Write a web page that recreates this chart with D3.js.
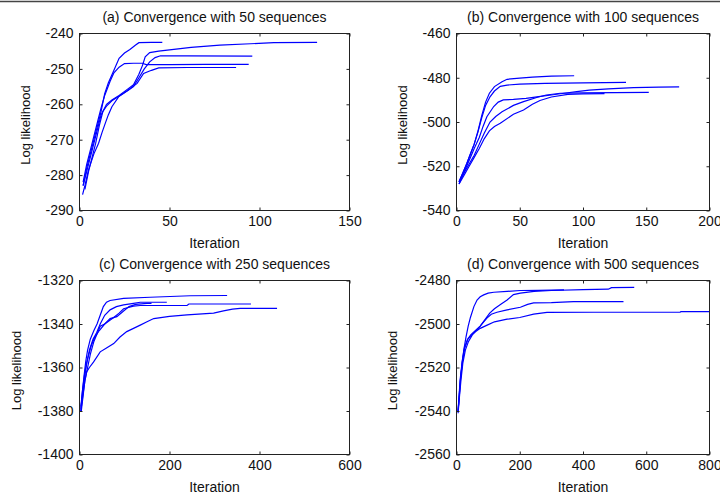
<!DOCTYPE html>
<html><head><meta charset="utf-8">
<script src="https://cdn.jsdelivr.net/npm/d3@7"></script>
<style>html,body{margin:0;padding:0;background:#fff;overflow:hidden}</style>
</head><body>
<svg id="chart" width="720" height="495"></svg>
<script>
// ---------- data ----------
const titles = [
  "(a) Convergence with 50 sequences",
  "(b) Convergence with 100 sequences",
  "(c) Convergence with 250 sequences",
  "(d) Convergence with 500 sequences"
];
const xLabel = "Iteration";
const yLabel = "Log likelihood";

const xTicksA = [0, 50, 100, 150];
const xTicksB = [0, 50, 100, 150, 200];
const xTicksC = [0, 200, 400, 600];
const xTicksD = [0, 200, 400, 600, 800];
const yTicksA = [-290, -280, -270, -260, -250, -240];
const yTicksB = [-540, -520, -500, -480, -460];
const yTicksC = [-1400, -1380, -1360, -1340, -1320];
const yTicksD = [-2560, -2540, -2520, -2500, -2480];

// each run: [iteration, log likelihood] pairs
const runsA = [
  [[2,-283],[4,-278],[6,-274],[8,-270],[10,-266],[12,-262],[14,-257],[16,-254],[19,-250.5],[22,-247],[25,-245.5],[28,-244.5],[31,-243.3],[33,-242.6],[40,-242.5],[46,-242.5]],
  [[2,-282],[4,-277],[6,-273],[8,-269],[10,-265],[12,-261],[14,-257.5],[17,-253.5],[19,-251.2],[22,-249.5],[25,-248.5],[30,-248.4],[35,-248.4],[37,-248.8],[50,-248.8],[70,-248.7],[94,-248.7]],
  [[3,-284],[5,-279],[7,-275],[9,-271],[11,-266],[13,-262],[15,-260.5],[18,-259],[21,-258],[24,-257],[27,-256],[30,-255],[33,-252.5],[36,-250],[39,-248],[42,-246.8],[45,-246.3],[60,-246.3],[96,-246.4]],
  [[2,-283],[4,-279],[6,-275],[8,-271],[10,-267],[12,-263],[15,-260],[18,-258.8],[22,-257.5],[26,-256],[30,-254.5],[33,-251.5],[35,-249],[36.5,-246.6],[39,-245.4],[44,-245],[50,-244.6],[62,-243.9],[78,-243.3],[95,-242.9],[108,-242.6],[132,-242.5]],
  [[1.7,-285.5],[3,-283],[5,-278.5],[8,-274],[10.6,-271],[12.5,-268],[14.3,-265.4],[16,-263],[18,-260.7],[21.7,-257.9],[27,-256],[32,-254.1],[35.6,-251.3],[40,-250.4],[44,-249.7],[60,-249.6],[87,-249.6]]
];
const runsB = [
  [[2,-527],[5,-523],[8,-519],[11,-514.5],[14,-510],[17,-504],[20,-497],[23,-491],[26,-487],[30,-484],[36,-481.8],[40,-480.7],[50,-480.2],[60,-479.7],[75,-479.3],[93,-479.1]],
  [[2,-527],[5,-523],[8,-519],[11,-514.5],[14,-510],[17,-504.5],[20,-498],[23,-492.5],[26.5,-488.6],[30,-486],[34.6,-483.9],[40,-483.3],[50,-482.9],[70,-482.5],[100,-482.3],[134,-482.1]],
  [[2,-528],[5,-524],[8,-520],[11,-516],[14,-512],[18,-507],[21,-502],[24,-497.6],[29.4,-493],[33,-491],[37,-490],[45,-489.8],[55,-489.3],[65,-488.5],[75,-487.8],[85,-487],[95,-486.3],[105,-485.6],[120,-485],[140,-484.5],[160,-484.2],[176,-484.1]],
  [[2,-527],[6,-523],[10,-519],[14,-515],[18,-510],[22,-505],[26.5,-500],[31,-497.5],[36,-495.4],[45,-492.5],[53,-490.8],[64,-488.8],[71,-487.8],[82,-487],[100,-486.8],[125,-486.7],[152,-486.6]],
  [[2,-528],[6,-524],[10,-520],[14,-516],[18,-512],[22,-507.5],[26,-504],[30,-502],[34.6,-500.6],[45,-496.5],[53,-494.6],[60,-492],[66,-490.3],[75,-488.7],[88,-487.5],[100,-487.3],[117,-487.2]]
];
const runsC = [
  [[3,-1380],[6,-1372],[10,-1364],[14,-1357],[18,-1352],[24,-1347],[32,-1343],[39,-1340],[46,-1336],[53,-1332],[60,-1330],[68,-1329.2],[98,-1328.2],[157,-1327.7],[246,-1327],[328,-1326.9]],
  [[3,-1379],[7,-1372],[11,-1365],[16,-1358],[22,-1352],[30,-1347],[38,-1344],[46,-1340],[56,-1336],[68,-1333.5],[82,-1332],[98,-1331.2],[120,-1330.5],[135,-1330],[194,-1330]],
  [[4,-1380],[8,-1373],[12,-1366],[18,-1360],[24,-1354],[32,-1348],[40,-1344],[46,-1341],[56,-1340],[66,-1338.5],[76,-1337],[88,-1335],[98,-1333],[120,-1331.8],[135,-1331.5],[200,-1331.5],[239,-1331.5],[243,-1330.8],[300,-1330.8],[381,-1330.8]],
  [[3,-1378],[7,-1370],[12,-1362],[18,-1356],[26,-1350],[34,-1346],[44,-1343],[56,-1340],[68,-1337.5],[83,-1336.6],[98,-1334],[110,-1332],[125,-1331],[150,-1330.5],[160,-1330.5]],
  [[3,-1380],[8,-1372],[12,-1366],[16,-1362],[22,-1360],[31,-1357.5],[46,-1352.8],[60,-1351],[76,-1349],[90,-1346],[105,-1343.5],[120,-1342],[135,-1340.5],[150,-1339],[165,-1337.5],[200,-1336.5],[239,-1335.8],[298,-1335],[320,-1334],[340,-1333.2],[357,-1332.8],[439,-1332.8]]
];
const runsD = [
  [[5,-2540],[8,-2534],[12,-2526],[18,-2518],[23,-2512],[30,-2506],[37,-2501],[44,-2497],[55,-2492],[65,-2489],[75,-2487.5],[86,-2486.6],[100,-2485.8],[118,-2485.4],[160,-2485],[202,-2484.6],[260,-2484.5],[340,-2484.3]],
  [[5,-2540],[8,-2533],[12,-2525],[18,-2517],[25,-2511],[35,-2507],[45,-2505],[60,-2503],[75,-2501],[90,-2498],[105,-2495],[120,-2493],[139,-2491],[160,-2489],[180,-2486.5],[202,-2485.8],[245,-2485],[300,-2484.6],[400,-2484.2],[480,-2484],[490,-2483.3],[562,-2483.2]],
  [[5,-2540],[9,-2533],[13,-2525],[19,-2517],[26,-2511],[36,-2507],[48,-2505],[62,-2503],[75,-2501],[86,-2499],[97,-2497.2],[110,-2495.5],[128,-2494.6],[160,-2493.5],[202,-2492.3],[225,-2491],[244,-2490.3],[300,-2490.2],[370,-2489.7],[528,-2489.7]],
  [[5,-2541],[9,-2534],[14,-2526],[20,-2518],[28,-2512],[38,-2508],[50,-2505],[62,-2503.3],[75,-2502],[97,-2500.5],[120,-2499],[160,-2497.8],[200,-2497],[244,-2495.5],[286,-2494.7],[434,-2494.6],[707,-2494.5],[710,-2494.3],[800,-2494.3]]
];

// ---------- layout ----------
const panels = [
  {runs: runsA, xt: xTicksA, yt: yTicksA, L: 79.5, R: 349.5, T: 33.5, B: 210.5, titleY: 22, xlabY: 248, ylabX: 30},
  {runs: runsB, xt: xTicksB, yt: yTicksB, L: 456.5, R: 709.5, T: 33.5, B: 210.5, titleY: 22, xlabY: 248, ylabX: 407},
  {runs: runsC, xt: xTicksC, yt: yTicksC, L: 79.5, R: 349.5, T: 280.5, B: 454.5, titleY: 269, xlabY: 492, ylabX: 21},
  {runs: runsD, xt: xTicksD, yt: yTicksD, L: 456.5, R: 709.5, T: 280.5, B: 454.5, titleY: 269, xlabY: 492, ylabX: 397}
];

const svg = d3.select("#chart");
const FONT = "'Liberation Sans', Arial, Helvetica, sans-serif";
const ink = "#111";
const frame = "#222";

svg.append("line").attr("x1", 0).attr("x2", 720).attr("y1", 1.5).attr("y2", 1.5)
  .attr("stroke", "#444").attr("stroke-width", 1.4);

panels.forEach((p, i) => {
  const x = d3.scaleLinear().domain([p.xt[0], p.xt[p.xt.length - 1]]).range([p.L, p.R]);
  const y = d3.scaleLinear().domain([p.yt[0], p.yt[p.yt.length - 1]]).range([p.B, p.T]);
  const g = svg.append("g");
  const clipId = "clip" + i;
  g.append("clipPath").attr("id", clipId).append("rect")
    .attr("x", p.L).attr("y", p.T).attr("width", p.R - p.L).attr("height", p.B - p.T);

  // lines
  const line = d3.line().x(d => x(d[0])).y(d => y(d[1]));
  g.append("g").attr("clip-path", `url(#${clipId})`).selectAll("path").data(p.runs).join("path")
    .attr("d", line).attr("fill", "none").attr("stroke", "#0000ff").attr("stroke-width", 1.2);

  // frame
  g.append("rect").attr("x", p.L).attr("y", p.T).attr("width", p.R - p.L).attr("height", p.B - p.T)
    .attr("fill", "none").attr("stroke", frame).attr("stroke-width", 1);

  // axes with inward ticks
  const tl = 3;
  g.append("g").attr("transform", `translate(0,${p.B})`)
    .call(d3.axisBottom(x).tickValues(p.xt).tickSize(-tl).tickPadding(6).tickFormat(d3.format("d")))
    .call(a => a.select(".domain").remove());
  g.append("g").attr("transform", `translate(0,${p.T})`)
    .call(d3.axisTop(x).tickValues(p.xt).tickSize(-tl).tickFormat(""))
    .call(a => a.select(".domain").remove());
  g.append("g").attr("transform", `translate(${p.L},0)`)
    .call(d3.axisLeft(y).tickValues(p.yt).tickSize(-tl).tickPadding(6).tickFormat(d => d3.format("d")(d).replace("\u2212", "-")))
    .call(a => a.select(".domain").remove());
  g.append("g").attr("transform", `translate(${p.R},0)`)
    .call(d3.axisRight(y).tickValues(p.yt).tickSize(-tl).tickFormat(""))
    .call(a => a.select(".domain").remove());

  g.selectAll(".tick line").attr("stroke", frame);
  g.selectAll(".tick text").attr("font-family", FONT).attr("font-size", 14).attr("fill", ink);

  // title
  g.append("text").attr("x", (p.L + p.R) / 2).attr("y", p.titleY).attr("text-anchor", "middle")
    .attr("font-family", FONT).attr("font-size", 14).attr("fill", ink).text(titles[i]);
  // x label
  g.append("text").attr("x", (p.L + p.R) / 2).attr("y", p.xlabY).attr("text-anchor", "middle")
    .attr("font-family", FONT).attr("font-size", 14).attr("fill", ink).text(xLabel);
  // y label
  const cy = (p.T + p.B) / 2 + 3;
  g.append("text").attr("transform", `translate(${p.ylabX},${cy}) rotate(-90)`).attr("text-anchor", "middle")
    .attr("font-family", FONT).attr("font-size", 13).attr("fill", ink).text(yLabel);
});
</script>
</body></html>
